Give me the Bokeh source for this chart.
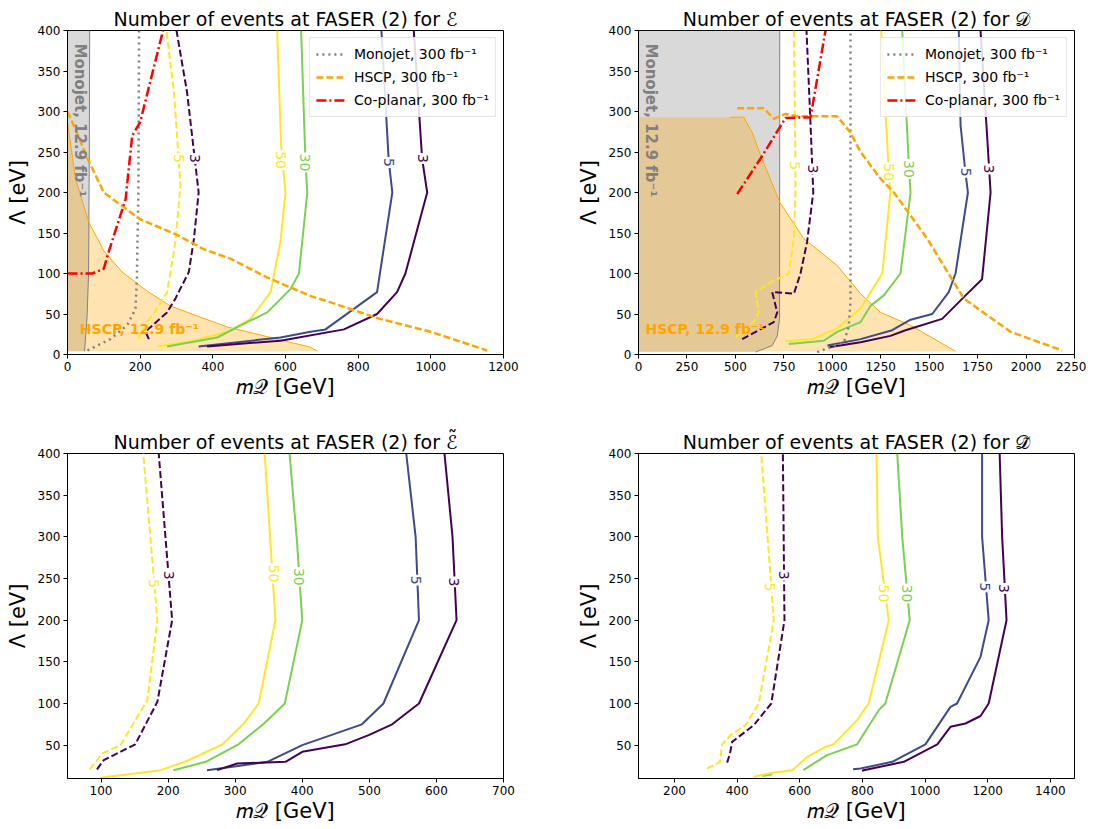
import numpy as np
from bokeh.plotting import figure
from bokeh.models import Range1d, FixedTicker, Label, Legend, LegendItem
from bokeh.layouts import gridplot
from bokeh.embed import file_html
from bokeh.resources import INLINE
from bokeh.core.properties import value

FONT = "DejaVu Sans"
C3, C5, C30, C50 = "#440154", "#3e4a89", "#7ad151", "#fde725"
ORANGE, RED, GRAY = "#ffa500", "#ff0000", "#808080"

# ================= DATA =================
# ---- Panel E (top-left) ----
mono129_E_m = [47, 54, 58, 60, 61]
mono129_E_L = [4, 48, 100, 250, 400]
hscp129_E_m = [0, 22, 59, 100, 150, 220, 283, 360, 440, 550, 669, 688]
hscp129_E_L = [287, 217, 163, 128, 102, 78, 60, 47, 34, 22, 9, 4]
mono300_E_m = [55, 118, 164, 187, 191, 195, 197]
mono300_E_L = [5, 19, 36, 56, 94, 200, 400]
hscp300_E_m = [0, 25, 55, 100, 200, 300, 375, 450, 550, 670, 720, 860, 1000, 1155]
hscp300_E_L = [300, 275, 242, 200, 167, 148, 130, 118, 95, 72, 65, 44, 28, 5]
copl_E_m = [0, 68, 100, 110, 160, 178, 200, 263]
copl_E_L = [100, 100, 106, 122, 192, 270, 287, 400]
f1_3_E_m = [224, 215, 224, 274, 297, 334, 348, 361, 329, 300]
f1_3_E_L = [19, 28, 32, 52, 69, 102, 143, 200, 324, 400]
f1_5_E_m = [196, 201, 251, 274, 297, 311, 293, 272]
f1_5_E_L = [19, 28, 60, 77, 139, 209, 324, 400]
f2_50_E_m = [247, 348, 440, 504, 559, 586, 600, 588, 577]
f2_50_E_L = [10, 17, 28, 44, 77, 139, 200, 258, 400]
f2_30_E_m = [274, 412, 504, 550, 614, 637, 660, 655, 643]
f2_30_E_L = [10, 21, 42, 52, 81, 100, 200, 237, 400]
f2_5_E_m = [361, 586, 669, 710, 852, 894, 884, 864]
f2_5_E_L = [10, 21, 28, 31, 77, 200, 240, 400]
f2_3_E_m = [384, 586, 761, 852, 907, 930, 990, 976, 953]
f2_3_E_L = [10, 17, 31, 50, 77, 100, 200, 242, 400]
lab_E_m = [306, 350, 588, 655, 886, 978]
lab_E_L = [242, 242, 240, 237, 237, 242]
lab_E_t = ["5", "3", "50", "30", "5", "3"]

# ---- Panel D (top-right) ----
mono129_D_m = [604, 690, 716, 728, 729]
mono129_D_L = [3, 11, 23, 44, 400]
hscp129_D_m = [0, 475, 543, 587, 630, 729, 853, 1025, 1146, 1249, 1404, 1636]
hscp129_D_L = [293, 293, 293, 274, 246, 188, 143, 110, 75, 52, 36, 4]
mono300_D_m = [922, 1060, 1085, 1094, 1094]
mono300_D_L = [3, 15, 35, 65, 400]
hscp300_D_m = [509, 647, 698, 759, 819, 1025, 1094, 1146, 1249, 1318, 1490, 1679, 1920, 2186]
hscp300_D_L = [304, 304, 291, 297, 294, 294, 274, 250, 217, 200, 143, 69, 28, 5]
copl_D_m = [509, 630, 759, 888, 965]
copl_D_L = [198, 242, 292, 293, 400]
f1_5_D_m = [501, 595, 621, 604, 681, 776, 802, 810, 810, 802]
f1_5_D_L = [21, 40, 52, 77, 89, 100, 143, 200, 233, 400]
f1_3_D_m = [535, 698, 716, 690, 802, 836, 870, 902, 888, 867]
f1_3_D_L = [19, 40, 52, 77, 75, 100, 139, 200, 283, 400]
f2_50_D_m = [759, 896, 1025, 1146, 1258, 1300, 1292, 1252]
f2_50_D_L = [16, 19, 32, 57, 100, 200, 225, 400]
f2_30_D_m = [776, 956, 1025, 1146, 1197, 1266, 1352, 1404, 1396, 1361]
f2_30_D_L = [13, 17, 28, 40, 60, 73, 100, 200, 229, 400]
f2_5_D_m = [975, 1146, 1309, 1404, 1516, 1601, 1636, 1700, 1687, 1662, 1653]
f2_5_D_L = [11, 19, 30, 43, 50, 77, 100, 200, 225, 283, 400]
f2_3_D_m = [982, 1146, 1300, 1378, 1567, 1688, 1773, 1817, 1799, 1765]
f2_3_D_L = [9, 15, 23, 30, 44, 73, 93, 200, 270, 400]
lab_D_m = [810, 898, 1294, 1398, 1690, 1810]
lab_D_L = [233, 229, 225, 229, 225, 229]
lab_D_t = ["5", "3", "50", "30", "5", "3"]

# ---- Panel E tilde (bottom-left) ----
f1_5_Et_m = [83, 102, 129, 169, 184, 163]
f1_5_Et_L = [21, 40, 50, 104, 200, 400]
f1_3_Et_m = [94, 104, 151, 184, 206, 186]
f1_3_Et_L = [21, 32, 51, 102, 200, 400]
f2_50_Et_m = [99, 189, 228, 281, 313, 335, 360, 344]
f2_50_Et_L = [11, 20, 31, 51, 76, 100, 200, 400]
f2_30_Et_m = [208, 256, 305, 343, 374, 400, 392, 381]
f2_30_Et_L = [20, 30, 51, 76, 100, 200, 296, 400]
f2_5_Et_m = [258, 348, 400, 489, 521, 574, 569, 555]
f2_5_Et_L = [20, 30, 50, 75, 100, 200, 300, 400]
f2_3_Et_m = [273, 303, 375, 400, 464, 499, 534, 574, 630, 624, 612]
f2_3_Et_L = [20, 28, 30, 42, 51, 62, 75, 100, 200, 300, 400]
lab_Et_m = [179, 201, 358, 395, 569, 626]
lab_Et_L = [244, 254, 256, 252, 248, 246]
lab_Et_t = ["5", "3", "50", "30", "5", "3"]

# ---- Panel D tilde (bottom-right) ----
f1_5_Dt_m = [304, 345, 352, 379, 427, 469, 517, 477]
f1_5_Dt_L = [22, 30, 51, 62, 74, 100, 200, 400]
f1_3_Dt_m = [368, 377, 384, 453, 509, 551, 546]
f1_3_Dt_L = [29, 40, 54, 74, 100, 200, 400]
f2_50_Dt_m = [453, 512, 576, 624, 682, 708, 783, 820, 884, 849, 845]
f2_50_Dt_L = [12, 17, 20, 36, 48, 51, 80, 100, 200, 300, 400]
f2_30_Dt_m = [611, 687, 783, 852, 873, 951, 927, 911]
f2_30_Dt_L = [20, 38, 51, 92, 100, 200, 300, 400]
f2_30b_Dt_m = [480, 512]
f2_30b_Dt_L = [13, 15]
f2_5_Dt_m = [770, 794, 895, 1001, 1081, 1102, 1177, 1203, 1182, 1182]
f2_5_Dt_L = [21, 22, 30, 51, 96, 100, 156, 200, 300, 400]
f2_3_Dt_m = [799, 804, 932, 1039, 1081, 1129, 1177, 1203, 1260, 1246, 1238]
f2_3_Dt_L = [19, 20, 30, 51, 72, 76, 85, 100, 200, 300, 400]
lab_Dt_m = [506, 551, 868, 943, 1192, 1253]
lab_Dt_L = [240, 254, 232, 232, 240, 238]
lab_Dt_t = ["5", "3", "50", "30", "5", "3"]

LAB_COLORS = [C50, C3, C50, C30, C5, C3]

titles = ["Number of events at FASER (2) for \u2130",
          "Number of events at FASER (2) for \U0001D49F",
          "Number of events at FASER (2) for \u2130\u0303",
          "Number of events at FASER (2) for \U0001D49F\u0303"]
xlabel = "\U0001D45A\U0001D4AC [GeV]"
ylabel = "\u039b [eV]"
xticks_E = [0, 200, 400, 600, 800, 1000, 1200]
xticks_D = [0, 250, 500, 750, 1000, 1250, 1500, 1750, 2000, 2250]
xticks_Et = [100, 200, 300, 400, 500, 600, 700]
xticks_Dt = [200, 400, 600, 800, 1000, 1200, 1400]
yticks_top = [0, 50, 100, 150, 200, 250, 300, 350, 400]
yticks_bot = [50, 100, 150, 200, 250, 300, 350, 400]


def base_fig(title, xr, yr, xticks, yticks, w, h, bl, br, bt, bb):
    p = figure(width=w, height=h, x_range=Range1d(*xr), y_range=Range1d(*yr),
               output_backend="svg", toolbar_location=None, tools="",
               min_border_left=bl, min_border_right=br,
               min_border_top=bt, min_border_bottom=bb)
    p.title.text = title
    p.title.align = "center"
    p.title.text_font = FONT
    p.title.text_font_size = "19px"
    p.title.text_font_style = "normal"
    p.title.text_color = "black"
    p.title.standoff = 2
    p.grid.visible = False
    p.outline_line_color = "black"
    p.outline_line_width = 1
    p.background_fill_color = "white"
    p.border_fill_color = "white"
    for ax in (p.xaxis[0], p.yaxis[0]):
        ax.major_label_text_font = FONT
        ax.major_label_text_font_size = "12px"
        ax.major_label_text_color = "black"
        ax.axis_line_color = "black"
        ax.major_tick_line_color = "black"
        ax.major_tick_out = 4
        ax.major_tick_in = 0
        ax.minor_tick_line_color = None
        ax.major_label_standoff = 3
        ax.axis_label_text_font = FONT
        ax.axis_label_text_font_size = "21px"
        ax.axis_label_text_font_style = "normal"
        ax.axis_label_text_color = "black"
    p.xaxis.axis_label_standoff = 1
    p.yaxis.axis_label_standoff = 5
    p.xaxis.ticker = FixedTicker(ticks=xticks)
    p.yaxis.ticker = FixedTicker(ticks=yticks)
    p.yaxis.axis_label = ylabel
    p.xaxis.axis_label = xlabel
    return p


def contour_lines(p, f1, f2, labs):
    for m, L, c in f1:
        p.line(m, L, line_color=c, line_width=2, line_dash="7 3")
    for m, L, c in f2:
        p.line(m, L, line_color=c, line_width=2)
    lm, lL, lt = labs
    p.text(x=lm, y=lL, text=lt, angle=-np.pi / 2, text_align="center",
           text_baseline="middle", text_font=value(FONT), text_font_size="14px",
           text_color=LAB_COLORS, background_fill_color="white", padding=1)


def regions(p, mono_m, mono_L, hscp_m, hscp_L, hscp_line_start):
    p.patch([0] + mono_m + [0], [mono_L[0]] + mono_L + [mono_L[-1]],
            fill_color=GRAY, fill_alpha=0.3, line_color=None)
    p.patch([0] + hscp_m, [4] + hscp_L, fill_color=ORANGE, fill_alpha=0.3, line_color=None)
    p.line(mono_m, mono_L, line_color=GRAY, line_width=1)
    p.line(hscp_m[hscp_line_start:], hscp_L[hscp_line_start:], line_color=ORANGE, line_width=1)


def constraint_lines(p, mono_m, mono_L, hscp_m, hscp_L, cop_m, cop_L):
    r1 = p.line(mono_m, mono_L, line_color=GRAY, line_width=2.5, line_dash="2 4")
    r2 = p.line(hscp_m, hscp_L, line_color=ORANGE, line_width=2.5, line_dash="7 3")
    r3 = p.line(cop_m, cop_L, line_color=RED, line_width=2.5, line_dash="10 3 2 3")
    leg = Legend(items=[LegendItem(label="Monojet, 300 fb\u207b\u00b9", renderers=[r1]),
                        LegendItem(label="HSCP, 300 fb\u207b\u00b9", renderers=[r2]),
                        LegendItem(label="Co-planar, 300 fb\u207b\u00b9", renderers=[r3])],
                 location="top_right")
    leg.margin = 7
    leg.padding = 6
    leg.spacing = 3
    leg.glyph_width = 30
    leg.glyph_height = 20
    leg.label_standoff = 8
    leg.label_text_font = FONT
    leg.label_text_font_size = "14px"
    leg.label_text_color = "black"
    leg.border_line_color = "#cccccc"
    leg.border_line_width = 1
    leg.background_fill_alpha = 0.85
    p.add_layout(leg)


def region_texts(p, mono_x, hscp_x):
    p.add_layout(Label(x=mono_x, y=384, text="Monojet, 12.9 fb\u207b\u00b9", angle=-np.pi / 2,
                       text_font=FONT, text_font_size="15px", text_font_style="bold",
                       text_color=GRAY, text_align="left", text_baseline="middle"))
    p.add_layout(Label(x=hscp_x, y=32, text="HSCP, 12.9 fb\u207b\u00b9",
                       text_font=FONT, text_font_size="14px", text_font_style="bold",
                       text_color=ORANGE, text_align="left", text_baseline="middle"))


# layout (page origin at 0,0): frames at x 67..503 and 638..1074, y 30..354 and 453..778
LW, RW = 571, 515
TH, BH = 410, 419

# ---- top-left ----
p1 = base_fig(titles[0], (0, 1200), (0, 400), xticks_E, yticks_top, LW, TH, 67, 68, 30, 56)
regions(p1, mono129_E_m, mono129_E_L, hscp129_E_m, hscp129_E_L, 0)
region_texts(p1, 34, 34)
contour_lines(p1,
              [(f1_5_E_m, f1_5_E_L, C50), (f1_3_E_m, f1_3_E_L, C3)],
              [(f2_50_E_m, f2_50_E_L, C50), (f2_30_E_m, f2_30_E_L, C30),
               (f2_5_E_m, f2_5_E_L, C5), (f2_3_E_m, f2_3_E_L, C3)],
              (lab_E_m, lab_E_L, lab_E_t))
constraint_lines(p1, mono300_E_m, mono300_E_L, hscp300_E_m, hscp300_E_L, copl_E_m, copl_E_L)

# ---- top-right ----
p2 = base_fig(titles[1], (0, 2250), (0, 400), xticks_D, yticks_top, RW, TH, 67, 12, 30, 56)
regions(p2, mono129_D_m, mono129_D_L, hscp129_D_m, hscp129_D_L, 1)
region_texts(p2, 62, 36)
contour_lines(p2,
              [(f1_5_D_m, f1_5_D_L, C50), (f1_3_D_m, f1_3_D_L, C3)],
              [(f2_50_D_m, f2_50_D_L, C50), (f2_30_D_m, f2_30_D_L, C30),
               (f2_5_D_m, f2_5_D_L, C5), (f2_3_D_m, f2_3_D_L, C3)],
              (lab_D_m, lab_D_L, lab_D_t))
constraint_lines(p2, mono300_D_m, mono300_D_L, hscp300_D_m, hscp300_D_L, copl_D_m, copl_D_L)

# ---- bottom-left ----
p3 = base_fig(titles[2], (50, 700), (10, 400), xticks_Et, yticks_bot, LW, BH, 67, 68, 43, 51)
contour_lines(p3,
              [(f1_5_Et_m, f1_5_Et_L, C50), (f1_3_Et_m, f1_3_Et_L, C3)],
              [(f2_50_Et_m, f2_50_Et_L, C50), (f2_30_Et_m, f2_30_Et_L, C30),
               (f2_5_Et_m, f2_5_Et_L, C5), (f2_3_Et_m, f2_3_Et_L, C3)],
              (lab_Et_m, lab_Et_L, lab_Et_t))

# ---- bottom-right ----
p4 = base_fig(titles[3], (85, 1477), (10, 400), xticks_Dt, yticks_bot, RW, BH, 67, 12, 43, 51)
p4.line(f2_30b_Dt_m, f2_30b_Dt_L, line_color=C30, line_width=2)
contour_lines(p4,
              [(f1_5_Dt_m, f1_5_Dt_L, C50), (f1_3_Dt_m, f1_3_Dt_L, C3)],
              [(f2_50_Dt_m, f2_50_Dt_L, C50), (f2_30_Dt_m, f2_30_Dt_L, C30),
               (f2_5_Dt_m, f2_5_Dt_L, C5), (f2_3_Dt_m, f2_3_Dt_L, C3)],
              (lab_Dt_m, lab_Dt_L, lab_Dt_t))

grid = gridplot([[p1, p2], [p3, p4]], toolbar_location=None)
open("out.html", "w").write(file_html(grid, INLINE))
